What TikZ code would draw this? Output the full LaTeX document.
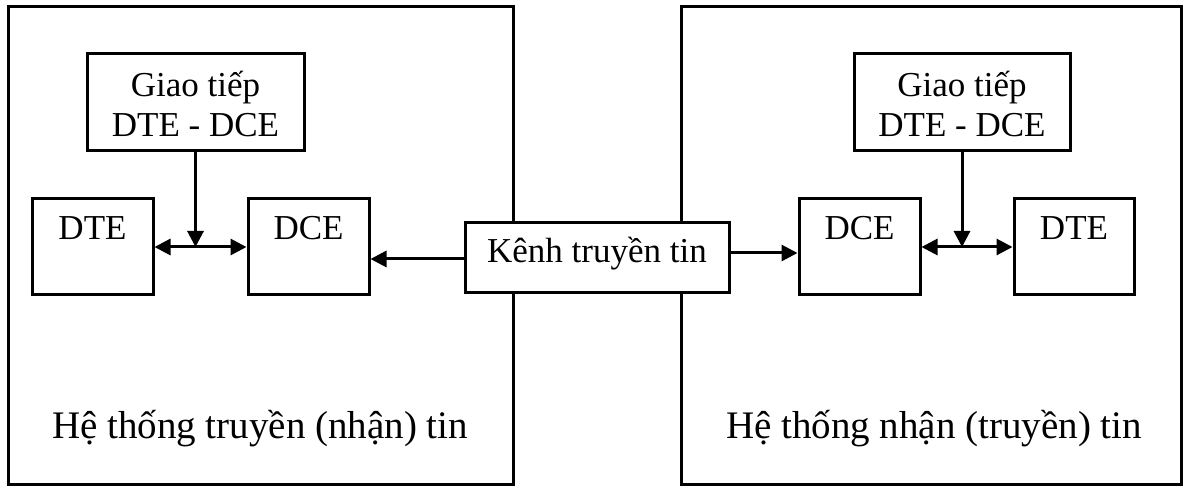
\documentclass[tikz,border=0pt]{standalone}
\usepackage{fontspec}
\setmainfont{Liberation Serif}
\usetikzlibrary{arrows.meta}
\begin{document}
\begin{tikzpicture}[x=1pt,y=-1pt,line width=3pt,
  blk/.style={draw,rectangle,inner sep=0pt},
  lbl/.style={inner sep=0pt,anchor=base,font=\fontsize{35}{40}\selectfont},
  sys/.style={inner sep=0pt,anchor=base,font=\fontsize{39}{44}\selectfont},
  link/.style={-{Triangle[length=16pt,width=16pt]}},
  biarrow/.style={{Triangle[length=16pt,width=16pt]}-{Triangle[length=16pt,width=16pt]}}]
\useasboundingbox (0,0) rectangle (1186,486);
% system frames
\node[blk,minimum width=505pt,minimum height=477pt] (sysL) at (260.5,245.5) {};
\node[blk,minimum width=500pt,minimum height=477pt] (sysR) at (931,245.5) {};
\node[sys] (sysLt) at (260,438) {Hệ thống truyền (nhận) tin};
\node[sys] (sysRt) at (934,438) {Hệ thống nhận (truyền) tin};
% left side blocks
\node[blk,minimum width=217pt,minimum height=97pt] (gL) at (195.5,102.5) {};
\node[lbl] (gLa) at (195.5,97) {Giao tiếp};
\node[lbl] (gLb) at (195.5,137) {DTE - DCE};
\node[blk,minimum width=121pt,minimum height=96pt] (dteL) at (92.5,247) {};
\node[lbl] (dteLt) at (92.5,240) {DTE};
\node[blk,minimum width=121pt,minimum height=96pt] (dceL) at (308.5,247) {};
\node[lbl] (dceLt) at (308.5,240) {DCE};
% right side blocks
\node[blk,minimum width=216pt,minimum height=97pt] (gR) at (962,102.5) {};
\node[lbl] (gRa) at (962,97) {Giao tiếp};
\node[lbl] (gRb) at (962,137) {DTE - DCE};
\node[blk,minimum width=121pt,minimum height=96pt] (dceR) at (859.5,247) {};
\node[lbl] (dceRt) at (859.5,240) {DCE};
\node[blk,minimum width=120pt,minimum height=96pt] (dteR) at (1074,247) {};
\node[lbl] (dteRt) at (1074,240) {DTE};
% channel
\node[blk,fill=white,minimum width=264pt,minimum height=70pt] (ch) at (597,258) {};
\node[lbl] (cht) at (597,263) {Kênh truyền tin};
% connectors
\draw[biarrow] (dteL.east) -- (dceL.west);
\draw[link] (gL.south) -- (gL.south |- dteL.east);
\draw[biarrow] (dceR.east) -- (dteR.west);
\draw[link] (gR.south) -- (gR.south |- dceR.east);
\draw[link] ([yshift=-1pt]ch.west) -- ([yshift=-1pt]ch.west -| dceL.east);
\draw[link] ([yshift=5pt]ch.east) -- ([yshift=5pt]ch.east -| dceR.west);
\end{tikzpicture}
\end{document}
